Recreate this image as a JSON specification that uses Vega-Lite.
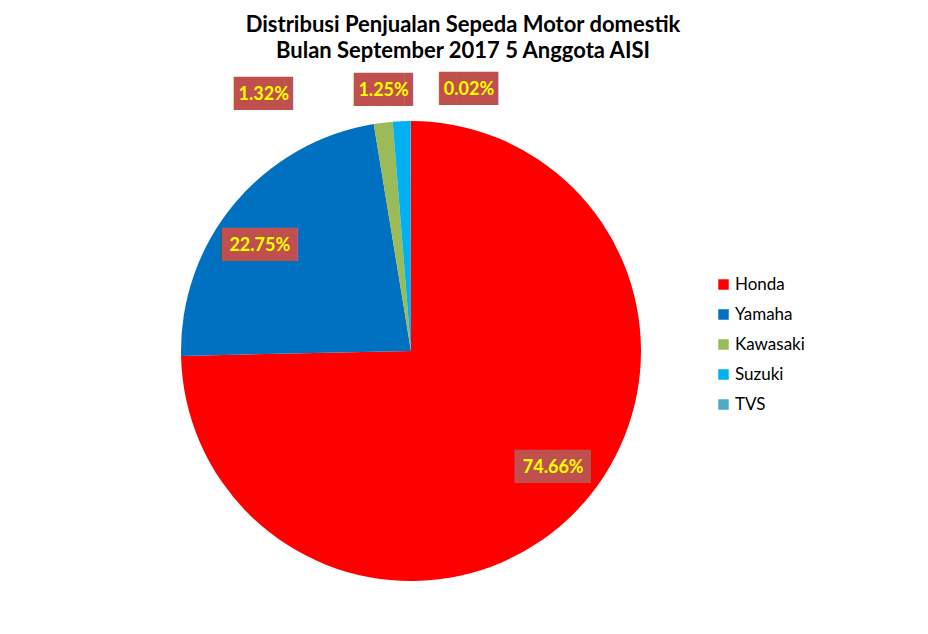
{
  "$schema": "https://vega.github.io/schema/vega-lite/v6.json",
  "width": 822,
  "height": 566,
  "autosize": "none",
  "padding": {"left": 0, "top": 68, "right": 106, "bottom": 0},
  "background": "white",
  "title": {
    "text": ["Distribusi Penjualan Sepeda Motor domestik", "Bulan September 2017 5 Anggota AISI"],
    "font": "Lato",
    "fontSize": 22,
    "fontWeight": "bold",
    "color": "black",
    "anchor": "middle",
    "dx": 52,
    "offset": 5,
    "lineHeight": 26
  },
  "data": {
    "values": [
      {"brand": "Honda", "share": 0.7466},
      {"brand": "Yamaha", "share": 0.2275},
      {"brand": "Kawasaki", "share": 0.0132},
      {"brand": "Suzuki", "share": 0.0125},
      {"brand": "TVS", "share": 0.0002}
    ]
  },
  "resolve": {"scale": {"theta": "independent"}},
  "layer": [
    {
      "mark": {"type": "arc", "outerRadius": 230},
      "encoding": {
        "theta": {"field": "share", "type": "quantitative", "stack": true},
        "order": {"field": "share", "sort": "descending"},
        "color": {
          "field": "brand",
          "type": "nominal",
          "scale": {
            "domain": ["Honda", "Yamaha", "Kawasaki", "Suzuki", "TVS"],
            "range": ["#FF0000", "#0070C0", "#9BBB59", "#00B0F0", "#4BACC6"]
          },
          "legend": {
            "orient": "none",
            "legendX": 715,
            "legendY": 208,
            "title": null,
            "symbolType": "square",
            "symbolSize": 110,
            "symbolStrokeWidth": 0,
            "labelFont": "Lato",
            "labelFontSize": 17,
            "labelColor": "black",
            "labelOffset": 3,
            "rowPadding": 12
          }
        }
      }
    },
    {
      "mark": {
        "type": "text",
        "font": "DejaVu Sans Mono",
        "fontSize": 28,
        "color": "#C0504D",
        "align": "center",
        "baseline": "middle",
        "text": {"expr": "datum.share >= 0.1 ? '████▌' : '███▌'"},
        "radius": {"expr": "datum.share < 0.05 ? 262 : 184"},
        "dx": {"expr": "4 + (datum.brand === 'Kawasaki' ? -93 : datum.brand === 'TVS' ? 81 : datum.brand === 'Suzuki' ? 6 : 0)"}
      },
      "encoding": {
        "theta": {"field": "share", "type": "quantitative", "stack": true, "scale": {"range": [-0.0873, 6.1959]}},
        "order": {"field": "share", "sort": "descending"}
      }
    },
    {
      "mark": {
        "type": "text",
        "font": "Lato",
        "fontSize": 18,
        "fontWeight": "bold",
        "color": "#FFFF00",
        "align": "center",
        "baseline": "middle",
        "radius": {"expr": "datum.share < 0.05 ? 262 : 184"},
        "dx": {"expr": "datum.brand === 'Kawasaki' ? -93 : datum.brand === 'TVS' ? 81 : datum.brand === 'Suzuki' ? 6 : 0"}
      },
      "encoding": {
        "theta": {"field": "share", "type": "quantitative", "stack": true, "scale": {"range": [-0.0873, 6.1959]}},
        "order": {"field": "share", "sort": "descending"},
        "text": {"field": "share", "type": "quantitative", "format": ".2%"}
      }
    }
  ],
  "config": {"view": {"stroke": null}}
}
